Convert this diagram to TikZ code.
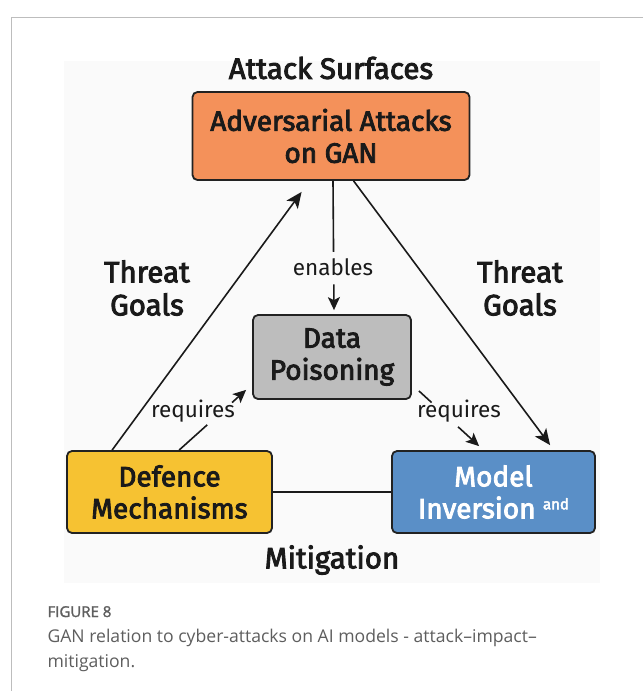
\documentclass[tikz,border=0pt]{standalone}
\usepackage{fontspec}
\setmainfont{Fira Sans}
\newfontfamily\medfont{Fira Sans}[FakeBold=3]
\newfontfamily\capfont{Open Sans}
\newfontfamily\capheadfont{Open Sans}[FakeBold=1.5]
\usetikzlibrary{arrows.meta}

\definecolor{ink}{HTML}{1A1A1A}
\definecolor{boxline}{HTML}{222222}
\definecolor{panel}{HTML}{FAFAFA}
\definecolor{framegray}{HTML}{BDBDBD}
\definecolor{advfill}{HTML}{F4915A}
\definecolor{poisonfill}{HTML}{BDBDBD}
\definecolor{deffill}{HTML}{F6C232}
\definecolor{invfill}{HTML}{5A8FC7}
\definecolor{capgray}{HTML}{5E5E5E}

\begin{document}
\begin{tikzpicture}[x=1pt,y=-1pt,
  box/.style={draw=boxline, line width=1.8pt, rounded corners=5pt,
    align=center, inner sep=0pt, text=ink,
    font=\medfont\fontsize{28}{32}\selectfont},
  conn/.style={draw=ink, line width=1.6pt},
  bigtip/.style={-{Stealth[length=16pt,width=14pt,inset=4pt]}},
  smalltip/.style={-{Stealth[length=13pt,width=12pt,inset=3pt]}},
  heading/.style={font=\medfont\fontsize{29.5}{33}\selectfont, text=ink, align=center},
  edgelabel/.style={font=\fontsize{22.5}{26}\selectfont, text=ink},
  captext/.style={anchor=base west, font=\capfont\fontsize{17.6}{25}\selectfont, text=capgray}]

\useasboundingbox (0,0) rectangle (643,691);
\fill[white] (0,0) rectangle (643,691);
\draw[framegray, line width=1pt] (643,17) -- (11,17) -- (11,691);
\fill[panel] (64,61) rectangle (600,583);

% the four boxes
\node[box, fill=advfill, minimum width=277pt, minimum height=88pt] (adv) at (331,136)
  {Adversarial Attacks\\on GAN};
\node[box, fill=poisonfill, minimum width=158pt, minimum height=84pt] (poison) at (332,357)
  {Data\\Poisoning};
\node[box, fill=deffill, minimum width=205pt, minimum height=82pt] (def) at (169.5,492)
  {Defence\\Mechanisms};
\node[box, fill=invfill, minimum width=203pt, minimum height=82pt, text=white] (inv) at (493.5,492)
  {Model\\Inversion \raisebox{9pt}{\fontsize{15}{15}\selectfont and}};

% headings around the triangle
\node[heading] (top) at (331,68) {Attack Surfaces};
\node[heading] (bottom) at (332,560) {Mitigation};
\node[heading] (goalsL) at (147,288) {Threat\\Goals};
\node[heading] (goalsR) at (520,288) {Threat\\Goals};

% long edges of the triangle
\draw[conn, bigtip] ([xshift=46pt]def.north west) -- ([xshift=110pt,yshift=-11pt]adv.south west);
\draw[conn, bigtip] ([xshift=162pt]adv.south west) -- ([xshift=159pt,yshift=5pt]inv.north west);
\draw[conn] (def.east) -- (inv.west);

% enables
\path ([xshift=2pt]adv.south) -- ([xshift=2pt,yshift=4pt]poison.north)
  coordinate[pos=0.55] (enA) coordinate[pos=0.80] (enB) coordinate[pos=1] (enT);
\draw[conn] ([xshift=2pt]adv.south) -- (enA);
\draw[conn, smalltip] (enB) -- (enT);
\node[edgelabel] (enables) at (333,267) {enables};

% requires (defence -> poisoning)
\path ([xshift=113pt]def.north west) coordinate (rqLs) -- ([xshift=-6pt,yshift=10pt]poison.south west)
  coordinate[pos=0.42] (rqLa) coordinate[pos=0.79] (rqLb) coordinate[pos=1] (rqLt);
\draw[conn] (rqLs) -- (rqLa);
\draw[conn, smalltip] (rqLb) -- (rqLt);
\node[edgelabel] (reqL) at (193,411) {requires};

% requires (poisoning -> inversion)
\path ([xshift=7pt,yshift=9pt]poison.south east) coordinate (rqRs) -- ([xshift=88pt,yshift=4pt]inv.north west)
  coordinate[pos=0.21] (rqRa) coordinate[pos=0.65] (rqRb) coordinate[pos=1] (rqRt);
\draw[conn] (rqRs) -- (rqRa);
\draw[conn, smalltip] (rqRb) -- (rqRt);
\node[edgelabel] (reqR) at (459,411) {requires};

% caption
\node[anchor=base west, font=\capheadfont\fontsize{15}{16}\selectfont, text=capgray] (fig) at (44,617) {FIGURE 8};
\node[captext] (cap1) at (44,642) {GAN relation to cyber-attacks on AI models - attack–impact–};
\node[captext] (cap2) at (44,667) {mitigation.};
\end{tikzpicture}
\end{document}
